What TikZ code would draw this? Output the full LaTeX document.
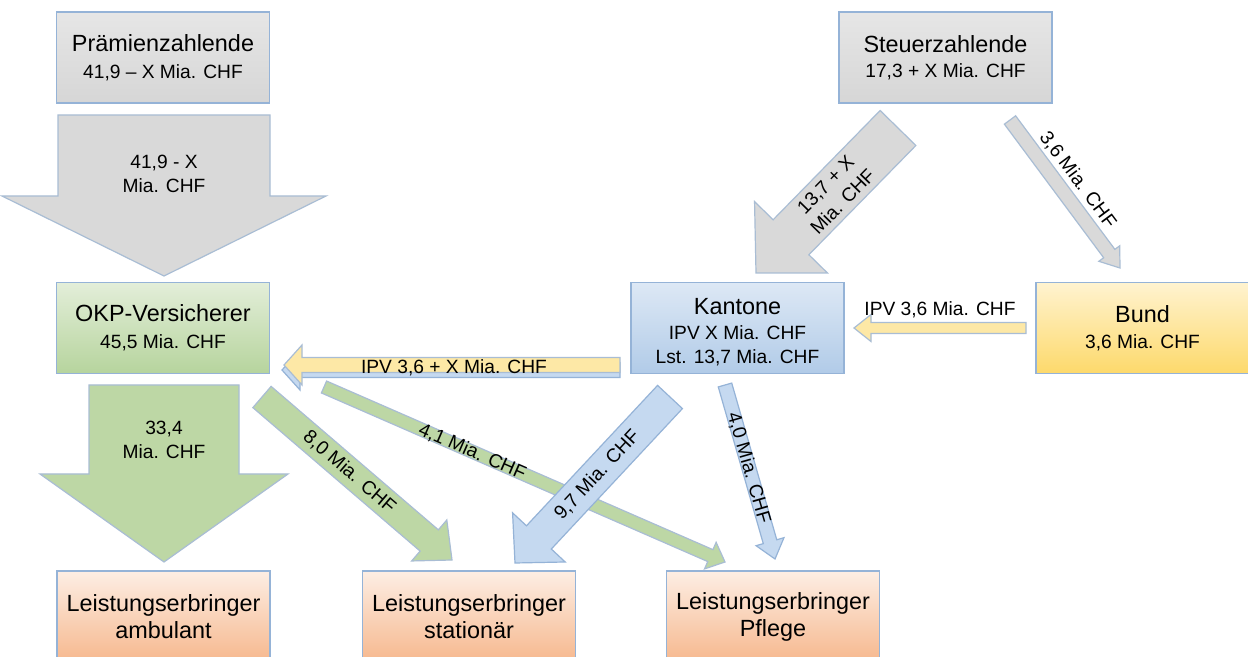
\documentclass[tikz,border=0pt]{standalone}
\usepackage{fontspec}
\setmainfont{Liberation Sans}
\usepackage{tikz}
\usetikzlibrary{calc}
\usetikzlibrary{positioning}

\definecolor{boxline}{HTML}{95B3D7}
\definecolor{arrowline}{HTML}{A9BDD4}
\definecolor{grayT}{HTML}{E6E6E6}
\definecolor{grayB}{HTML}{D6D6D6}
\definecolor{greenT}{HTML}{E3EED9}
\definecolor{greenB}{HTML}{B6D49D}
\definecolor{blueT}{HTML}{DDE8F5}
\definecolor{blueB}{HTML}{B1CBE8}
\definecolor{yellowT}{HTML}{FFF3D0}
\definecolor{yellowB}{HTML}{FDD96B}
\definecolor{peachT}{HTML}{FDEEE4}
\definecolor{peachB}{HTML}{F6B88E}
\definecolor{arrowgray}{HTML}{D9D9D9}
\definecolor{arrowgreen}{HTML}{BDD7A5}
\definecolor{arrowblue}{HTML}{C5D9F0}
\definecolor{arrowyellow}{HTML}{FDE8A6}

\newcommand{\bigfont}{\fontsize{11.7}{13.5}\selectfont}
\newcommand{\smallfont}{\fontsize{9.6}{12}\selectfont}

% block arrow: style, from, to, half shaft, half head, head length
\newcommand{\fatarrow}[6]{%
  \coordinate (fah) at ($(#3)!#6!(#2)$);
  \draw[#1] ($(#2)!#4!90:(#3)$) -- ($(fah)!#4!90:(#3)$) -- ($(fah)!#5!90:(#3)$) -- (#3)
    -- ($(fah)!#5!-90:(#3)$) -- ($(fah)!#4!-90:(#3)$) -- ($(#2)!#4!-90:(#3)$) -- cycle;%
}

\tikzset{
  box/.style={draw=boxline, line width=0.6pt, minimum width=106.5pt, minimum height=45.5pt,
    inner sep=0pt, align=center, font=\bigfont},
  lbl/.style={font=\smallfont, align=center, inner sep=1pt},
  grayarrow/.style={fill=arrowgray, draw=arrowline, line width=0.6pt},
  greenarrow/.style={fill=arrowgreen, draw=arrowline, line width=0.6pt},
  bluearrow/.style={fill=arrowblue, draw=boxline, line width=0.6pt},
  yellowarrow/.style={fill=arrowyellow, draw=arrowline, line width=0.6pt}
}

\begin{document}
\begin{tikzpicture}[x=0.5pt,y=-0.5pt]
	\clip (0,0) rectangle (1248,657);
	\fill[white] (0,0) rectangle (1248,657);

	\node[box, top color=grayT, bottom color=grayB] (praemien) at (163,57.5) {Prämienzahlende\\{\smallfont 41,9 – X Mia. CHF}};
	\node[box, top color=grayT, bottom color=grayB] (steuer) at (945.5,57.5) {Steuerzahlende\\[-1pt]{\smallfont 17,3 + X Mia. CHF}};
	\node[box, top color=greenT, bottom color=greenB] (okp) at (163,328) {OKP-Versicherer\\{\smallfont 45,5 Mia. CHF}};
	\node[box, top color=blueT, bottom color=blueB] (kantone) at (737.5,328) {\rule{0pt}{12.5pt}Kantone\\[-1pt]{\smallfont IPV X Mia. CHF}\\[-1.5pt]{\smallfont Lst. 13,7 Mia. CHF}};
	\node[box, top color=yellowT, bottom color=yellowB] (bund) at (1142.5,328) {Bund\\[-0.5pt]{\smallfont 3,6 Mia. CHF}};
	\node[box, top color=peachT, bottom color=peachB] (amb) at (163.5,616.5) {Leistungserbringer\\ambulant};
	\node[box, top color=peachT, bottom color=peachB] (stat) at (469,616.5) {Leistungserbringer\\stationär};
	\node[box, top color=peachT, bottom color=peachB] (pflege) at (773,616.5) {Leistungserbringer\\Pflege};

	\coordinate (praemienOut) at (164,115);
	\coordinate (okpIn) at (164,276);
	\coordinate (okpOutA) at (164,385);
	\coordinate (ambIn) at (164,562);
	\coordinate (okpOutS) at (262,397);
	\coordinate (statInO) at (452,560);
	\coordinate (okpOutP) at (324,387);
	\coordinate (pflegeInO) at (725,562);
	\coordinate (steuerOutK) at (898,128);
	\coordinate (kantoneIn) at (756,273);
	\coordinate (steuerOutB) at (1010,120);
	\coordinate (bundIn) at (1120,268);
	\coordinate (bundOut) at (1026,328);
	\coordinate (kantoneInB) at (854,328);
	\coordinate (kantoneOutB) at (620,370);
	\coordinate (okpInB) at (282,370);
	\coordinate (kantoneOutY) at (620,365);
	\coordinate (okpInY) at (284,365);
	\coordinate (kantoneOutS) at (670,397);
	\coordinate (statInK) at (515,563);
	\coordinate (kantoneOutP) at (725,385);
	\coordinate (pflegeInK) at (775,559);

	\fatarrow{grayarrow}{praemienOut}{okpIn}{53pt}{81pt}{40pt}
	\path (praemienOut) -- (okpIn) node[lbl, pos=0.366] {41,9 - X\\Mia. CHF};

	\fatarrow{greenarrow}{okpOutA}{ambIn}{37.5pt}{62pt}{44pt}
	\path (okpOutA) -- (ambIn) node[lbl, pos=0.31] {33,4\\Mia. CHF};

	\fatarrow{greenarrow}{okpOutS}{statInO}{7pt}{13.5pt}{15pt}
	\path (okpOutS) -- (statInO) node[lbl, pos=0.46, sloped] {8,0 Mia. CHF};

	\fatarrow{greenarrow}{okpOutP}{pflegeInO}{3.25pt}{7.25pt}{8pt}
	\path (okpOutP) -- (pflegeInO) node[lbl, pos=0.37, sloped] {4,1 Mia. CHF};

	\fatarrow{grayarrow}{steuerOutK}{kantoneIn}{12.5pt}{25.5pt}{25pt}
	\path (steuerOutK) -- (kantoneIn) node[lbl, pos=0.45, sloped] {13,7 + X\\Mia. CHF};

	\fatarrow{grayarrow}{steuerOutB}{bundIn}{3.5pt}{6.5pt}{9pt}
	\path (steuerOutB) -- (bundIn) node[lbl, pos=0.48, sloped, above=4pt] {3,6 Mia. CHF};

	\fatarrow{yellowarrow}{bundOut}{kantoneInB}{2.75pt}{6.75pt}{8.5pt}
	\path (bundOut) -- (kantoneInB) node[lbl, midway, above=4pt] {IPV 3,6 Mia. CHF};

	\fatarrow{bluearrow}{kantoneOutB}{okpInB}{3.75pt}{10pt}{9pt}
	\fatarrow{yellowarrow}{kantoneOutY}{okpInY}{3.75pt}{10pt}{9pt}
	\path (kantoneOutY) -- (okpInY) node[lbl, pos=0.494, yshift=-1.5pt] {IPV 3,6 + X Mia. CHF};

	\fatarrow{bluearrow}{kantoneOutS}{statInK}{8.5pt}{18pt}{17.5pt}
	\path (kantoneOutS) -- (statInK) node[lbl, pos=0.47, sloped] {9,7 Mia. CHF};

	\fatarrow{bluearrow}{kantoneOutP}{pflegeInK}{3.5pt}{7.25pt}{9pt}
	\path (kantoneOutP) -- (pflegeInK) node[lbl, pos=0.475, sloped] {4,0 Mia. CHF};
\end{tikzpicture}
\end{document}
